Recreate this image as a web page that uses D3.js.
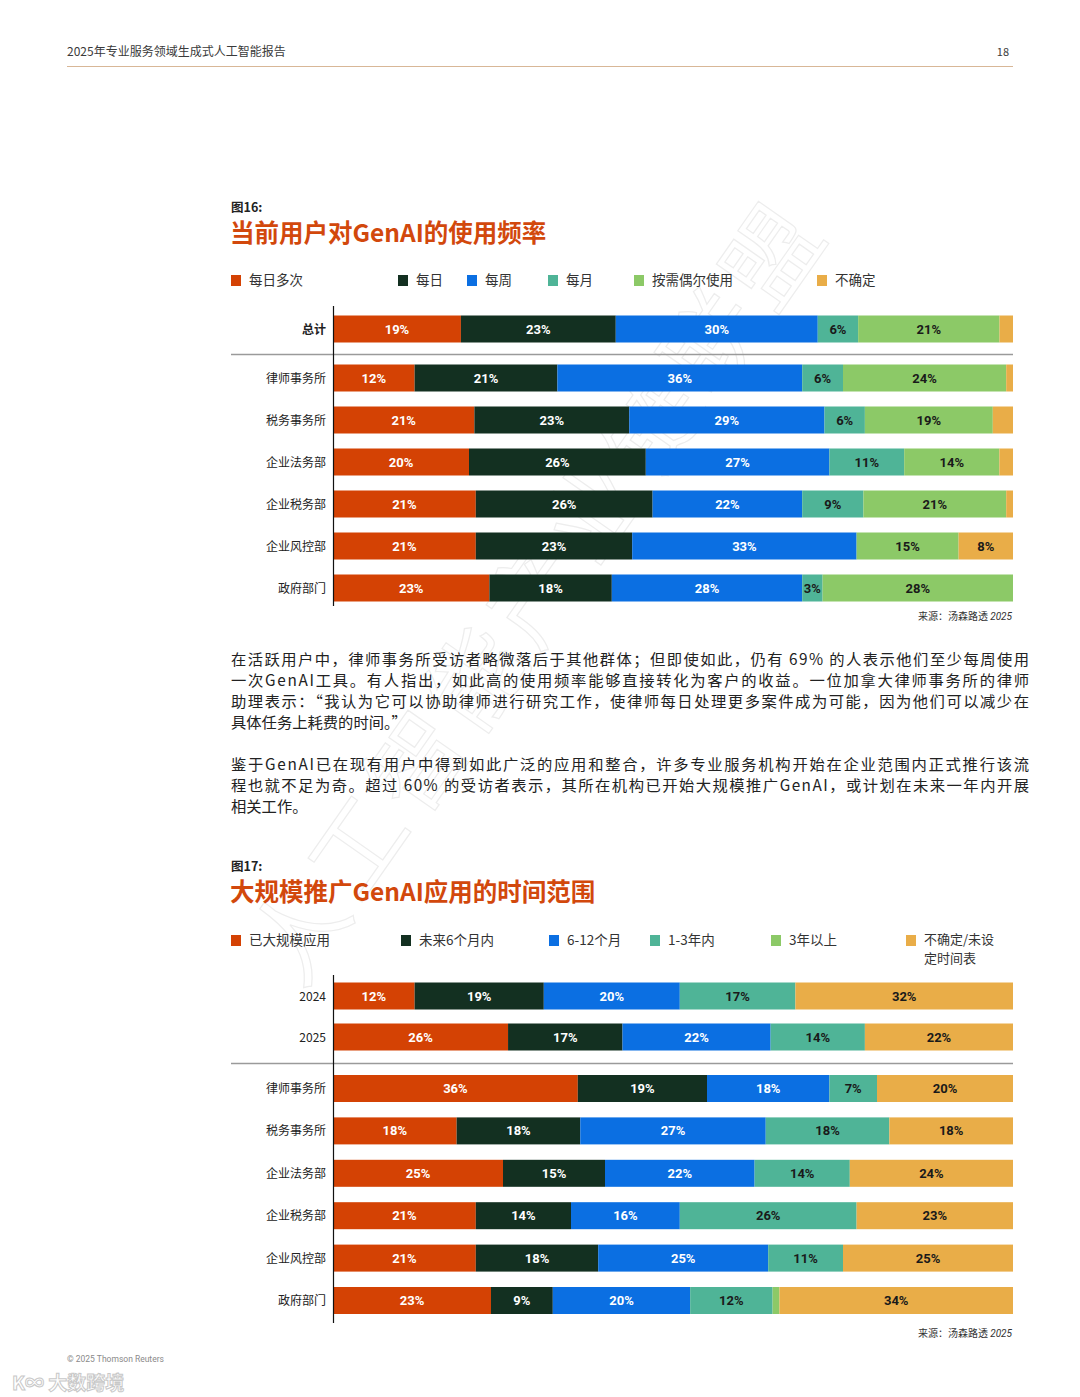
<!DOCTYPE html>
<html><head><meta charset="utf-8">
<script src="https://cdn.jsdelivr.net/npm/d3@7/dist/d3.min.js"></script>
<style>body{margin:0;background:#fff}svg{display:block}</style>
</head><body>
<svg id="page" width="1080" height="1397"></svg>
<script>
// ---------- DATA ----------
const header = "2025年专业服务领域生成式人工智能报告";
const pageNum = "18";

// Figure 16
const cats16 = ["总计","律师事务所","税务事务所","企业法务部","企业税务部","企业风控部","政府部门"];
const series16 = ["每日多次","每日","每周","每月","按需偶尔使用","不确定"];
const f16_multiDaily = [19,12,21,20,21,21,23];
const f16_daily      = [23,21,23,26,26,23,18];
const f16_weekly     = [30,36,29,27,22,33,28];
const f16_monthly    = [6,6,6,11,9,0,3];
const f16_asNeeded   = [21,24,19,14,21,15,28];
const f16_unsure     = [2,1,3,2,1,8,0];

// Figure 17
const cats17 = ["2024","2025","律师事务所","税务事务所","企业法务部","企业税务部","企业风控部","政府部门"];
const series17 = ["已大规模应用","未来6个月内","6-12个月","1-3年内","3年以上","不确定/未设定时间表"];
const f17_deployed = [12,26,36,18,25,21,21,23];
const f17_6m       = [19,17,19,18,15,14,18,9];
const f17_6to12m   = [20,22,18,27,22,16,25,20];
const f17_1to3y    = [17,14,7,18,14,26,11,12];
const f17_3yplus   = [0,0,0,0,0,0,0,1];
const f17_unsure   = [32,22,20,18,24,23,25,34];

const para1 = [
 "在活跃用户中，律师事务所受访者略微落后于其他群体；但即使如此，仍有 69% 的人表示他们至少每周使用",
 "一次GenAI工具。有人指出，如此高的使用频率能够直接转化为客户的收益。一位加拿大律师事务所的律师",
 "助理表示：“我认为它可以协助律师进行研究工作，使律师每日处理更多案件成为可能，因为他们可以减少在",
 "具体任务上耗费的时间。”"];
const para2 = [
 "鉴于GenAI已在现有用户中得到如此广泛的应用和整合，许多专业服务机构开始在企业范围内正式推行该流",
 "程也就不足为奇。超过 60% 的受访者表示，其所在机构已开始大规模推广GenAI，或计划在未来一年内开展",
 "相关工作。"];

// ---------- STYLE ----------
const colors = ["#d44204","#133021","#0b6fe2","#4fb497","#8cc967","#e9ad48"];
const labelColors = ["#fff","#fff","#fff","#1a1a1a","#1a1a1a","#1a1a1a"];
const FONT = "'Noto Sans CJK SC','Noto Sans',sans-serif";
const svg = d3.select("#page").style("font-family", FONT);

// header
svg.append("text").attr("x",67).attr("y",56).attr("font-size",12).attr("fill","#3a3a3a").text(header);
svg.append("text").attr("x",1009).attr("y",56).attr("font-size",11).attr("fill","#3a3a3a").attr("text-anchor","end").text(pageNum);
svg.append("line").attr("x1",67).attr("x2",1013).attr("y1",66.5).attr("y2",66.5).attr("stroke","#d8b797").attr("stroke-width",1.2);

// watermark (faint)
svg.append("text").attr("transform","translate(300,990) rotate(-55)")
  .attr("font-size",95).attr("fill","none").attr("stroke","#ededed").attr("stroke-width",1.2)
  .attr("letter-spacing",8).text("人工智能产业链联盟");

function chart(opt){
  const g = svg.append("g");
  g.append("text").attr("x",231).attr("y",opt.figY).attr("font-size",12.5).attr("font-weight",700).attr("fill","#222").text(opt.fig);
  g.append("text").attr("x",230).attr("y",opt.titleY).attr("font-size",24.5).attr("font-weight",700).attr("fill","#d2480c").text(opt.title);

  // legend
  opt.series.forEach((s,i)=>{
    const lx = opt.legendX[i];
    g.append("rect").attr("x",lx).attr("y",opt.legendY-10).attr("width",10).attr("height",11).attr("fill",colors[i]);
    const lines = opt.legendLines && opt.legendLines[i] ? opt.legendLines[i] : [s];
    const multi = lines.length>1;
    const t = g.append("text").attr("x",lx+18).attr("y",opt.legendY - (multi?1:0))
      .attr("font-size",multi?13:13.5).attr("fill","#333");
    lines.forEach((ln,k)=>{
      t.append("tspan").attr("x",lx+18).attr("dy",k===0?0:19).text(ln);
    });
  });

  const x = d3.scaleLinear().domain([0,1]).range([333,1013]);
  const rows = opt.cats.map((c,i)=>{
    const o = {cat:c};
    opt.series.forEach((s,j)=>o[s]=opt.values[j][i]);
    return o;
  });
  const stack = d3.stack().keys(opt.series).offset(d3.stackOffsetExpand);
  const layers = stack(rows);
  const yTop = d3.scalePoint().domain(opt.topCats).range(opt.topRange);
  const yBot = d3.scalePoint().domain(opt.botCats).range(opt.botRange);
  const yc = c => opt.topCats.includes(c) ? yTop(c) : yBot(c);
  const bh = 27;
  const last = opt.series.length-1;

  layers.forEach((layer,j)=>{
    const key = opt.series[j];
    g.append("g").selectAll("rect").data(layer).join("rect")
      .attr("x",d=>x(d[0])).attr("width",d=>Math.max(0,x(d[1])-x(d[0])))
      .attr("y",d=>yc(d.data.cat)-bh/2).attr("height",bh).attr("fill",colors[j]);
    g.append("g").selectAll("text").data(layer.filter(d=>d.data[key]>=(j===last?5:3))).join("text")
      .attr("x",d=>(x(d[0])+x(d[1]))/2).attr("y",d=>yc(d.data.cat)+4.5)
      .attr("text-anchor","middle").attr("font-size",13).attr("font-weight",700)
      .attr("font-family","Roboto,'Noto Sans',sans-serif")
      .attr("fill",labelColors[j]).text(d=>d.data[key]+"%");
  });

  // category labels
  g.append("g").selectAll("text").data(opt.cats).join("text")
    .attr("x",326).attr("y",d=>yc(d)+4.5).attr("text-anchor","end").attr("font-size",12)
    .attr("font-weight",d=>d===opt.boldCat?700:400).attr("fill","#222").text(d=>d);

  // separator
  g.append("line").attr("x1",231).attr("x2",1013).attr("y1",opt.sepY).attr("y2",opt.sepY).attr("stroke","#9a9a9a").attr("stroke-width",1.3);
  // axis
  g.append("line").attr("x1",333.5).attr("x2",333.5).attr("y1",opt.axis[0]).attr("y2",opt.axis[1]).attr("stroke","#111").attr("stroke-width",1.2);
  // source
  const src = g.append("text").attr("x",1012).attr("y",opt.srcY).attr("text-anchor","end").attr("font-size",10).attr("fill","#333");
  src.append("tspan").text("来源：汤森路透 ");
  src.append("tspan").attr("font-style","italic").attr("font-family","Roboto,sans-serif").text("2025");
}

chart({
  fig:"图16:", figY:212, title:"当前用户对GenAI的使用频率", titleY:242,
  series:series16, legendX:[231,398,467,548,634,817], legendY:285,
  cats:cats16, values:[f16_multiDaily,f16_daily,f16_weekly,f16_monthly,f16_asNeeded,f16_unsure],
  topCats:["总计"], topRange:[329,329], botCats:cats16.slice(1), botRange:[378,588],
  boldCat:"总计", sepY:354.5, axis:[306,606], srcY:620
});

chart({
  fig:"图17:", figY:871, title:"大规模推广GenAI应用的时间范围", titleY:901,
  series:series17, legendX:[231,401,549,650,771,906], legendY:945,
  legendLines:[null,null,null,null,null,["不确定/未设","定时间表"]],
  cats:cats17, values:[f17_deployed,f17_6m,f17_6to12m,f17_1to3y,f17_3yplus,f17_unsure],
  topCats:["2024","2025"], topRange:[996,1037], botCats:cats17.slice(2), botRange:[1088.5,1300.5],
  boldCat:null, sepY:1063.5, axis:[975,1323], srcY:1337
});

// paragraphs
function para(lines, y0){
  lines.forEach((ln,i)=>{
    const t = svg.append("text").attr("x",231).attr("y",y0+i*21).attr("font-size",15.3).attr("fill","#222").text(ln);
    if(i<lines.length-1) t.attr("textLength",798).attr("lengthAdjust","spacing");
  });
}
para(para1,665);
para(para2,770);

// footer
svg.append("text").attr("x",67).attr("y",1362).attr("font-size",8.5).attr("fill","#8a8a8a").attr("font-family","Roboto,sans-serif").text("© 2025 Thomson Reuters");
svg.append("text").attr("x",12).attr("y",1390).attr("font-size",19).attr("font-weight",700).attr("fill","#fff").attr("stroke","#c8c8c8").attr("stroke-width",1).text("K∞ 大数跨境");
</script>
</body></html>
